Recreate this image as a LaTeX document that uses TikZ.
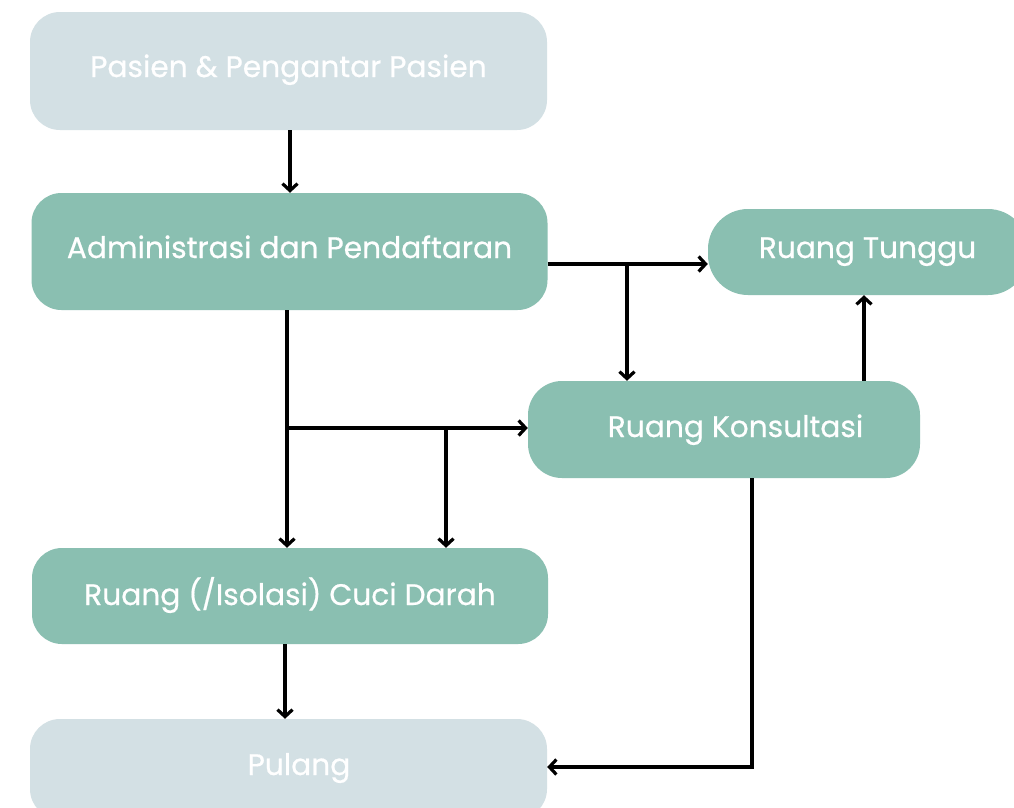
\documentclass[tikz,border=0pt]{standalone}
\usepackage{fontspec}
\setmainfont{Poppins}[FakeBold=0.6]
\usetikzlibrary{arrows.meta}
\definecolor{lightbox}{RGB}{211,224,228}
\definecolor{greenbox}{RGB}{138,191,177}
\begin{document}
\begin{tikzpicture}[x=1pt,y=-1pt,
  box/.style={rectangle, rounded corners=30pt, inner sep=0pt, draw=none},
  lbox/.style={box, fill=lightbox},
  gbox/.style={box, fill=greenbox},
  txt/.style={anchor=base, text=white, inner sep=0pt, font=\fontsize{29.7}{34}\selectfont},
  conn/.style={line width=3.2pt, -{Straight Barb[length=7pt,width=15pt]}}
]
\useasboundingbox (0,0) rectangle (1014,807);
\clip (0,0) rectangle (1014,807);
\fill[white] (0,0) rectangle (1014,807);

% boxes
\node[lbox, minimum width=517pt, minimum height=118pt] (pasien) at (288.5,71) {};
\node[gbox, minimum width=516pt, minimum height=117pt] (admin) at (289.5,251.5) {};
\node[gbox, rounded corners=40pt, minimum width=320pt, minimum height=86pt] (tunggu) at (868,252) {};
\node[gbox, rounded corners=34pt, minimum width=392pt, minimum height=97pt] (konsul) at (724,429.5) {};
\node[gbox, minimum width=516pt, minimum height=96pt] (cuci) at (290,596) {};
\node[lbox, minimum width=517pt, minimum height=100pt] (pulang) at (288.5,769) {};

% texts
\node[txt] (pasienT) at (288.5,77) {Pasien \& Pengantar Pasien};
\node[txt] (adminT) at (289.5,258) {Administrasi dan Pendaftaran};
\node[txt] (tungguT) at (867.5,258) {Ruang Tunggu};
\node[txt] (konsulT) at (735.5,437) {Ruang Konsultasi};
\node[txt] (cuciT) at (290,605) {Ruang (/Isolasi) Cuci Darah};
\node[txt] (pulangT) at (299,775) {Pulang};

% helper coordinates
\coordinate (r1) at (0,264);
\coordinate (j1) at (627,264);
\coordinate (c0) at (290,0);
\coordinate (c1) at (287,0);
\coordinate (j2) at (287,428);
\coordinate (j3) at (446,428);
\coordinate (c2) at (864,0);
\coordinate (c3) at (752,767);
\coordinate (c4) at (285,0);

% connectors
\draw[conn] (pasien.south -| c0) -- (admin.north -| c0);
\draw[conn] (admin.east |- r1) -- (tunggu.west |- r1);
\draw[conn] (j1) -- (j1 |- konsul.north);
\draw[conn] (admin.south -| c1) -- (cuci.north -| c1);
\draw[conn] (j2) -- (konsul.west |- j2);
\draw[conn] (j3) -- (j3 |- cuci.north);
\draw[conn] (konsul.north -| c2) -- (tunggu.south -| c2);
\draw[conn] (konsul.south -| c3) -- (c3) -- (pulang.east |- c3);
\draw[conn] (cuci.south -| c4) -- (pulang.north -| c4);
\end{tikzpicture}
\end{document}
